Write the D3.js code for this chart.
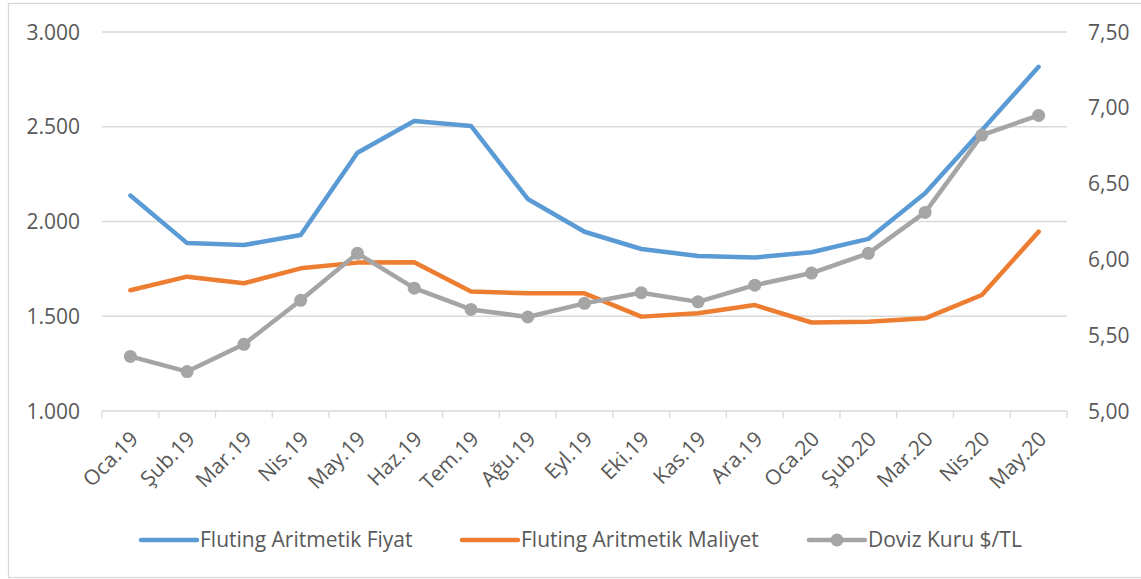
<!DOCTYPE html>
<html>
<head>
  <meta charset="utf-8">
  <script src="https://d3js.org/d3.v7.min.js"></script>
</head>

<style>
body {
  margin: 0;
  background: white;
}
text {
  font-family: "Open Sans", sans-serif;
  fill: #595959;
}
</style>

<body>
</body>

<script>
    // months on the x axis
    var months = ["Oca.19", "Şub.19", "Mar.19", "Nis.19", "May.19", "Haz.19", "Tem.19", "Ağu.19",
      "Eyl.19", "Eki.19", "Kas.19", "Ara.19", "Oca.20", "Şub.20", "Mar.20", "Nis.20", "May.20"];

    // left axis (TL)
    var fiyat = [2137, 1886, 1876, 1929, 2363, 2530, 2504, 2119, 1946, 1855, 1818, 1810, 1838, 1908, 2149, 2481, 2816];
    var maliyet = [1637, 1709, 1674, 1753, 1783, 1785, 1630, 1621, 1621, 1498, 1516, 1559, 1467, 1471, 1489, 1612, 1946];

    // right axis ($/TL)
    var doviz = [5.36, 5.26, 5.44, 5.73, 6.04, 5.81, 5.67, 5.62, 5.71, 5.78, 5.72, 5.83, 5.91, 6.04, 6.31, 6.82, 6.95];

    var leftTicks = [1000, 1500, 2000, 2500, 3000];
    var rightTicks = [5, 5.5, 6, 6.5, 7, 7.5];

    var seriesNames = ["Fluting Aritmetik Fiyat", "Fluting Aritmetik Maliyet", "Doviz Kuru $/TL"];
    var colors = ["#5B9BD5", "#ED7D31", "#A5A5A5"];

    var width = 1141, height = 579;

    var svg = d3.select("body")
      .append("svg")
      .attr("width", width)
      .attr("height", height);

    // chart border (right side runs off the picture)
    svg.append("rect")
      .attr("x", 8.5)
      .attr("y", 3.5)
      .attr("width", 1150)
      .attr("height", 574)
      .attr("fill", "white")
      .attr("stroke", "#D9D9D9")
      .attr("stroke-width", 1.3);

    var x = d3.scaleBand()
      .domain(months)
      .range([102, 1067]);

    var yL = d3.scaleLinear()
      .domain([1000, 3000])
      .range([411, 32]);

    var yR = d3.scaleLinear()
      .domain([5, 7.5])
      .range([411, 32]);

    function cx(d, i) {
      return x(months[i]) + x.bandwidth() / 2;
    }

    // gridlines
    svg.selectAll(".grid")
      .data(leftTicks)
      .enter()
      .append("line")
      .attr("x1", x.range()[0])
      .attr("x2", x.range()[1])
      .attr("y1", function(d) { return yL(d) })
      .attr("y2", function(d) { return yL(d) })
      .attr("stroke", "#D9D9D9")
      .attr("stroke-width", 1.3);

    // tick marks between categories
    var boundaries = months.map(function(m) { return x(m) }).concat([x.range()[1]]);
    svg.selectAll(".xtick")
      .data(boundaries)
      .enter()
      .append("line")
      .attr("x1", function(d) { return d })
      .attr("x2", function(d) { return d })
      .attr("y1", yL(1000))
      .attr("y2", yL(1000) + 7)
      .attr("stroke", "#D9D9D9")
      .attr("stroke-width", 1.3);

    // left labels
    svg.selectAll(".ylab")
      .data(leftTicks)
      .enter()
      .append("text")
      .attr("x", 80)
      .attr("y", function(d) { return yL(d) })
      .attr("dy", "0.36em")
      .attr("text-anchor", "end")
      .style("font-size", "21px")
      .text(function(d) { return d3.format(",")(d).replace(",", ".") });

    // right labels
    svg.selectAll(".rlab")
      .data(rightTicks)
      .enter()
      .append("text")
      .attr("x", 1088)
      .attr("y", function(d) { return yR(d) })
      .attr("dy", "0.36em")
      .style("font-size", "21px")
      .text(function(d) { return d3.format(".2f")(d).replace(".", ",") });

    // month labels
    svg.selectAll(".xlab")
      .data(months)
      .enter()
      .append("text")
      .attr("transform", function(d) {
        return "translate(" + (x(d) + x.bandwidth() / 2 + 4) + ",435) rotate(-45)";
      })
      .attr("dy", "0.35em")
      .attr("text-anchor", "end")
      .style("font-size", "21px")
      .text(function(d) { return d });

    var lineL = d3.line()
      .x(cx)
      .y(function(d) { return yL(d) });

    var lineR = d3.line()
      .x(cx)
      .y(function(d) { return yR(d) });

    svg.append("path")
      .datum(fiyat)
      .attr("d", lineL)
      .attr("fill", "none")
      .attr("stroke", colors[0])
      .attr("stroke-width", 4.5)
      .attr("stroke-linejoin", "round")
      .attr("stroke-linecap", "round");

    svg.append("path")
      .datum(maliyet)
      .attr("d", lineL)
      .attr("fill", "none")
      .attr("stroke", colors[1])
      .attr("stroke-width", 4.5)
      .attr("stroke-linejoin", "round")
      .attr("stroke-linecap", "round");

    svg.append("path")
      .datum(doviz)
      .attr("d", lineR)
      .attr("fill", "none")
      .attr("stroke", colors[2])
      .attr("stroke-width", 4.5)
      .attr("stroke-linejoin", "round")
      .attr("stroke-linecap", "round");

    svg.selectAll(".dot")
      .data(doviz)
      .enter()
      .append("circle")
      .attr("cx", cx)
      .attr("cy", function(d) { return yR(d) })
      .attr("r", 6.5)
      .attr("fill", colors[2]);

    // legend
    var legendX = [141, 462, 809];
    var legend = svg.selectAll(".legend")
      .data(seriesNames)
      .enter()
      .append("g")
      .attr("transform", function(d, i) { return "translate(" + legendX[i] + ",540)" });

    legend.append("line")
      .attr("x1", 0)
      .attr("x2", 56)
      .attr("stroke", function(d, i) { return colors[i] })
      .attr("stroke-width", 4.5)
      .attr("stroke-linecap", "round");

    legend.filter(function(d, i) { return i == 2 })
      .append("circle")
      .attr("cx", 28)
      .attr("r", 6.5)
      .attr("fill", colors[2]);

    legend.append("text")
      .attr("x", 59)
      .attr("dy", "0.35em")
      .style("font-size", "21px")
      .text(function(d) { return d });
</script>
</html>
